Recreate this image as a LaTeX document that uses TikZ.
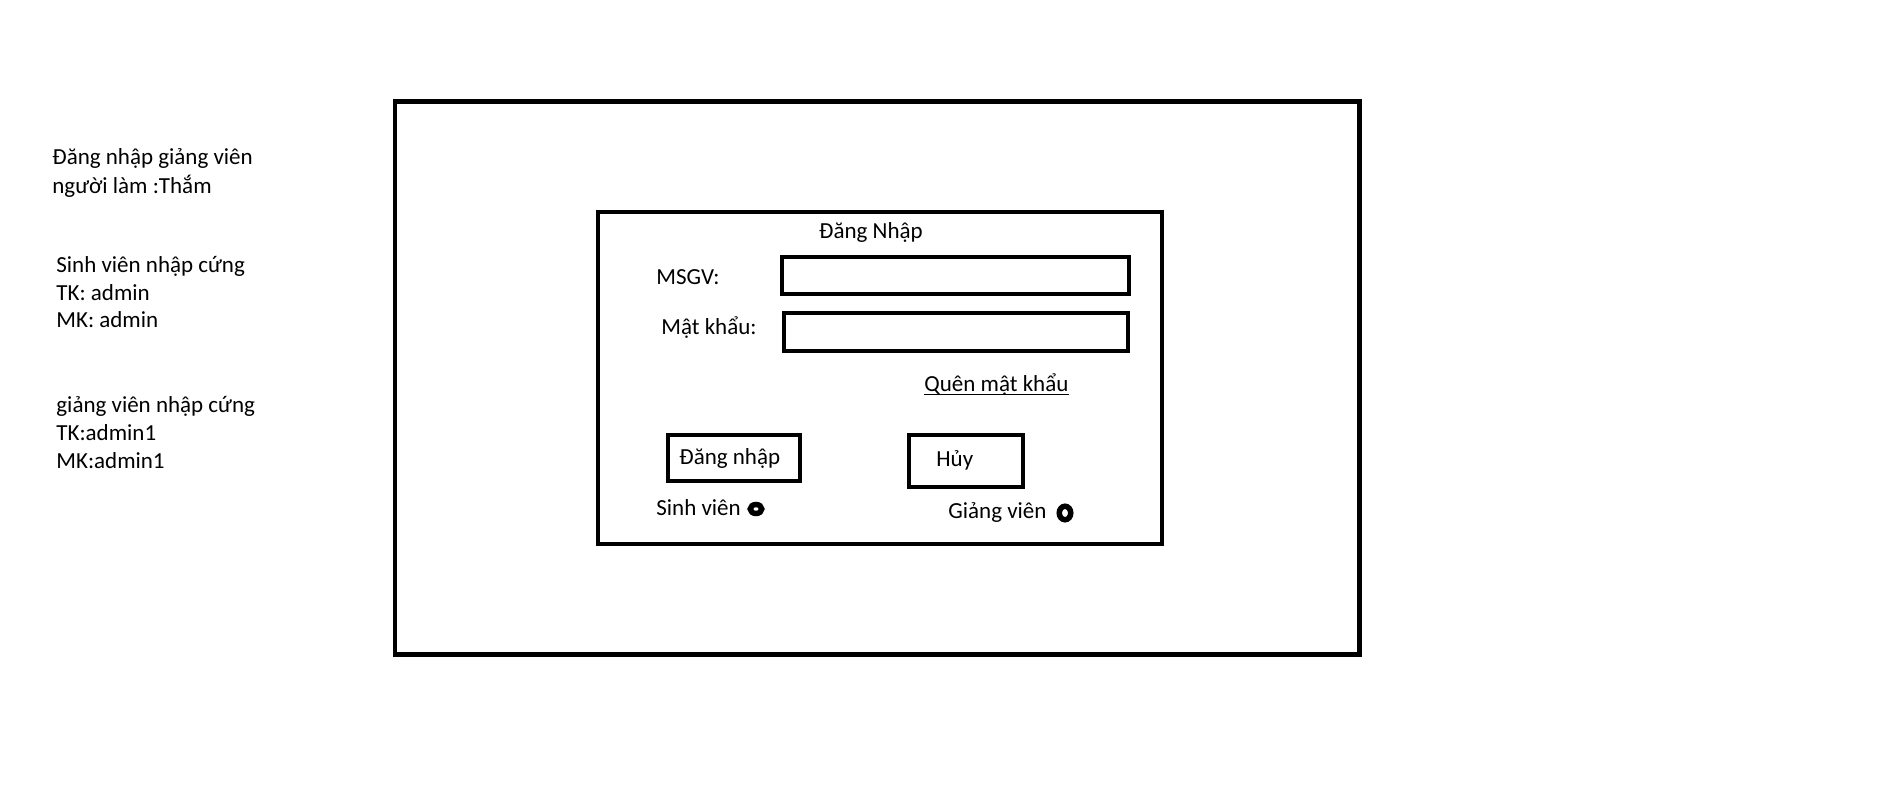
\documentclass[tikz,border=0pt]{standalone}
\usepackage{fontspec}
\setmainfont{Carlito}
\begin{document}
\begin{tikzpicture}[x=0.5pt, y=-0.5pt,
    frame/.style={line width=2.2pt},
    txt/.style={anchor=base west, inner sep=0pt, font=\fontsize{11.5}{14}\selectfont},
    radio/.style={line width=2.75pt}]
    \useasboundingbox (0,0) rectangle (1892,792);
    % notes on the left
    \node[txt] (title) at (52,165) {Đăng nhập giảng viên};
    \node[txt] (author) at (52,193) {người làm :Thắm};
    \node[txt] (svhead) at (56,272) {Sinh viên nhập cứng};
    \node[txt] (svtk) at (56,300) {TK: admin};
    \node[txt] (svmk) at (56,328) {MK: admin};
    \node[txt] (gvhead) at (56,412) {giảng viên nhập cứng};
    \node[txt] (gvtk) at (56,440) {TK:admin1};
    \node[txt] (gvmk) at (56,468) {MK:admin1};
    % window and form
    \draw[line width=2.25pt] (395,101.5) rectangle (1359.5,654.5);
    \draw[frame] (598,212) rectangle (1162,544);
    \node[txt, anchor=base] (form) at (871,238) {Đăng Nhập};
    \node[txt] (msgv) at (656,285) {MSGV:};
    \draw[frame] (782,257) rectangle (1129,294);
    \node[txt] (pass) at (661,334) {Mật khẩu:};
    \draw[frame] (784,313) rectangle (1128,351);
    \node[txt] (forgot) at (924,391) {Quên mật khẩu};
    \draw[line width=0.6pt] ([yshift=-1.6pt]forgot.base west) -- ([yshift=-1.6pt]forgot.base east);
    % buttons
    \draw[frame] (668,435) rectangle (800,481);
    \node[txt] (login) at (679,464) {Đăng nhập};
    \draw[frame] (909,435) rectangle (1023,487);
    \node[txt] (cancel) at (936,466) {Hủy};
    % choice of role
    \node[txt] (student) at (656,515) {Sinh viên};
    \draw[radio] (756,509) ellipse [x radius=5.75, y radius=4.5];
    \node[txt] (teacher) at (948,518) {Giảng viên};
    \draw[radio] (1065,513) ellipse [x radius=5.75, y radius=6.75];
\end{tikzpicture}
\end{document}
